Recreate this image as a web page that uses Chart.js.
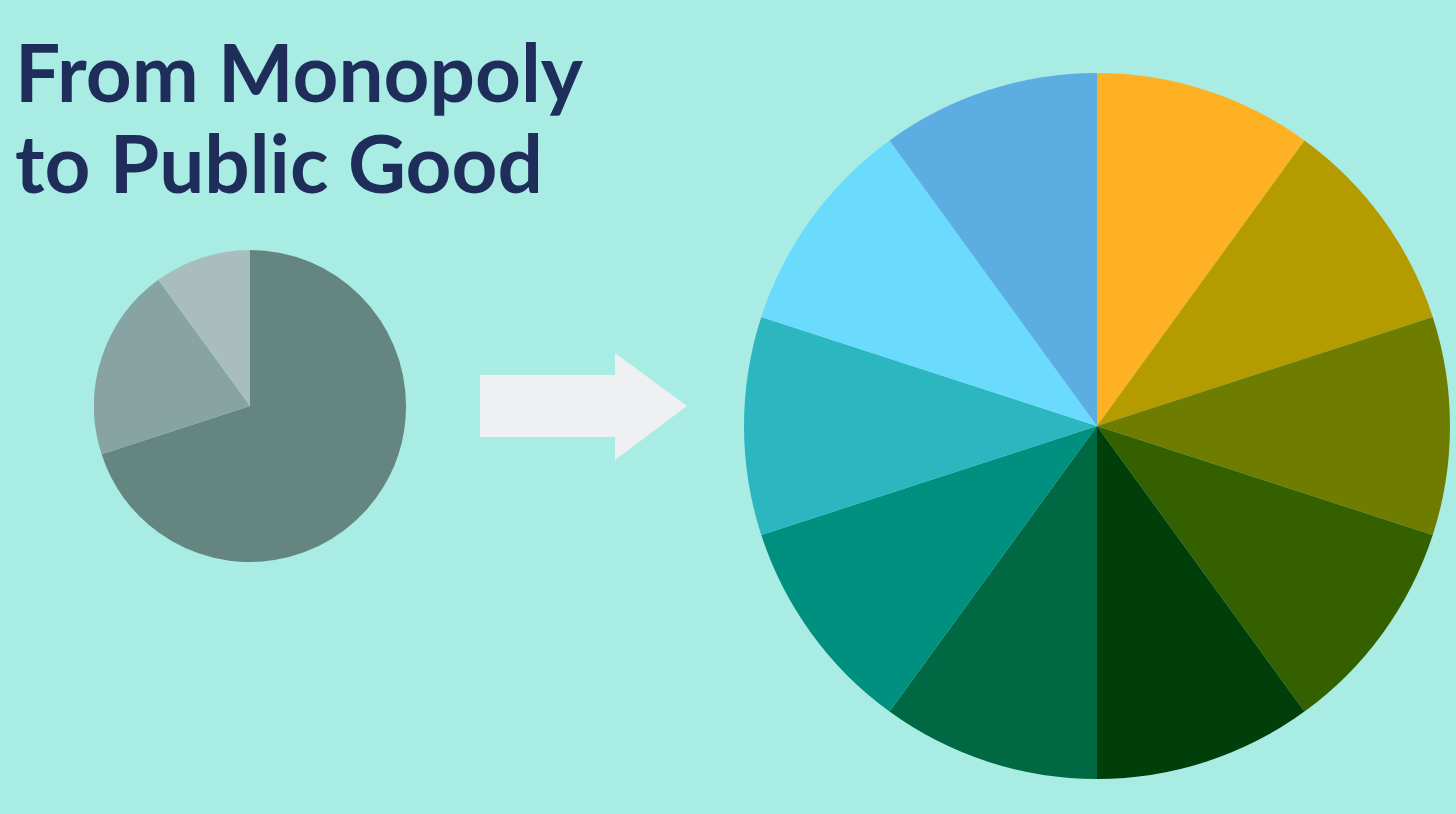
<!DOCTYPE html>
<html>
<head>
<meta charset="utf-8">
<script src="https://cdn.jsdelivr.net/npm/chart.js@4"></script>
<style>
  html, body { margin:0; padding:0; width:1456px; height:814px; overflow:hidden; background:#a8ece4; }
  #title { position:absolute; left:15px; top:26px; margin:0; font-family:"Lato", sans-serif; font-weight:700; font-size:80px; line-height:91px; color:#1e2d5a; white-space:nowrap; }
  #small { position:absolute; left:94px; top:250px; }
  #big { position:absolute; left:744px; top:73px; }
  #arrow { position:absolute; left:480px; top:353px; }
</style>
</head>
<body>
<h1 id="title">From Monopoly<br>to Public Good</h1>
<canvas id="small" width="312" height="312"></canvas>
<svg id="arrow" width="207" height="108" viewBox="0 0 207 108"><polygon points="0,22 135,22 135,0 207,53 135,107 135,84 0,84" fill="#eff0f2"/></svg>
<canvas id="big" width="706" height="706"></canvas>
<script>
const beforeLabels = ["Dominant platform", "Second player", "Others"];
const beforeValues = [70, 20, 10];
const beforeColors = ["#648580", "#87a3a2", "#a9bdbf"];

const afterLabels = ["Share 1", "Share 2", "Share 3", "Share 4", "Share 5", "Share 6", "Share 7", "Share 8", "Share 9", "Share 10"];
const afterValues = [10, 10, 10, 10, 10, 10, 10, 10, 10, 10];
const afterColors = ["#feb122", "#b39b00", "#6e7d00", "#356000", "#013f0a", "#006843", "#009080", "#2bb6c0", "#6adbfd", "#5badE2"];

function makePie(id, labels, values, colors, border) {
  new Chart(document.getElementById(id), {
    type: "pie",
    data: { labels: labels, datasets: [{ data: values, backgroundColor: colors, borderWidth: border, borderColor: "rgba(255,255,255,0.25)" }] },
    options: {
      responsive: false, animation: false, devicePixelRatio: 1,
      layout: { padding: 0 },
      plugins: { legend: { display: false }, tooltip: { enabled: false } }
    }
  });
}
makePie("small", beforeLabels, beforeValues, beforeColors, 0);
makePie("big", afterLabels, afterValues, afterColors, 0);
</script>
</body>
</html>
